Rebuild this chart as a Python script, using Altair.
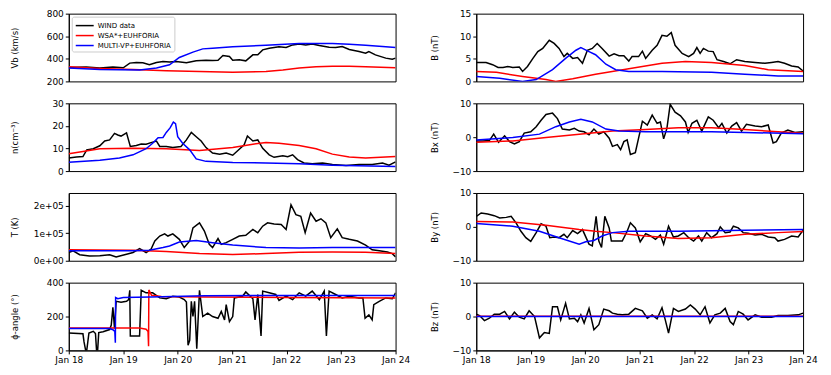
import altair as alt
import pandas as pd

# ---------------- data (day offset from Jan 18, value) ----------------
SERIES = ["WIND data", "WSA*+EUHFORIA", "MULTI-VP+EUHFORIA"]
COLORS = ["black", "#ff0000", "#0000ff"]
DAY_TICKS = [18, 19, 20, 21, 22, 23, 24]

vb_wind_d = [0, 0.32, 0.57, 0.81, 1.00, 1.12, 1.24, 1.36, 1.48, 1.61, 1.73, 1.85, 1.97, 2.16, 2.34,
             2.52, 2.64, 2.74, 2.83, 2.95, 3.01, 3.13, 3.25, 3.38, 3.47, 3.56, 3.68, 3.86, 3.99, 4.11,
             4.23, 4.35, 4.47, 4.60, 4.78, 4.90, 5.02, 5.15, 5.33, 5.45, 5.51, 5.63, 5.82, 5.94, 6.00]
vb_wind_v = [324, 327, 318, 327, 320, 362, 368, 365, 347, 368, 376, 371, 376, 365, 382,
             388, 385, 388, 429, 420, 388, 391, 382, 435, 435, 479, 494, 506, 500, 523,
             532, 523, 532, 518, 503, 500, 509, 482, 465, 450, 465, 435, 406, 397, 406]
vb_wsa_d = [0, 0.57, 1.18, 1.79, 2.40, 3.01, 3.62, 3.93, 4.23, 4.54, 4.84, 5.15, 5.45, 6.00]
vb_wsa_v = [329, 315, 306, 294, 288, 282, 288, 300, 318, 329, 335, 335, 329, 321]
vb_mvp_d = [0, 0.57, 1.30, 1.61, 1.85, 2.03, 2.28, 2.46, 2.64, 3.01, 3.62, 4.23, 4.84, 5.15, 5.45, 5.76, 6.00]
vb_mvp_v = [318, 306, 300, 318, 347, 412, 459, 488, 494, 506, 521, 535, 535, 529, 521, 509, 500]

n_wind_d = [0, 0.14, 0.26, 0.33, 0.45, 0.57, 0.66, 0.75, 0.84, 0.90, 0.96, 1.06, 1.13, 1.24, 1.33,
            1.42, 1.54, 1.61, 1.67, 1.79, 1.91, 2.06, 2.16, 2.25, 2.34, 2.43, 2.52, 2.64, 2.77, 2.89,
            3.01, 3.10, 3.22, 3.28, 3.38, 3.47, 3.56, 3.68, 3.77, 3.93, 4.02, 4.11, 4.20, 4.32, 4.47,
            4.66, 4.84, 5.09, 5.33, 5.57, 5.76, 5.88, 6.00]
n_wind_v = [5.8, 6.2, 6.4, 9.4, 9.9, 11.2, 13.3, 13.8, 16.7, 16.0, 15.5, 16.9, 10.9, 11.3, 12.0,
            11.9, 12.8, 13.3, 10.9, 10.9, 10.4, 10.9, 13.8, 17.1, 15.2, 13.3, 10.4, 8.0, 7.5, 8.0,
            7.0, 9.0, 11.6, 15.5, 13.3, 13.8, 10.1, 7.2, 6.1, 6.8, 6.4, 7.2, 5.1, 3.6, 3.2,
            3.6, 2.9, 2.5, 2.9, 2.9, 3.6, 2.6, 4.1]
n_wsa_d = [0, 0.26, 0.57, 1.18, 1.79, 2.40, 3.01, 3.38, 3.62, 3.86, 4.23, 4.54, 4.84, 5.15, 5.45, 6.00]
n_wsa_v = [7.7, 8.7, 9.9, 10.1, 9.9, 9.1, 10.4, 11.9, 12.6, 12.3, 11.3, 9.9, 7.5, 6.2, 5.8, 6.4]
n_mvp_d = [0, 0.57, 0.93, 1.18, 1.42, 1.54, 1.64, 1.73, 1.79, 1.86, 1.92, 1.96, 2.00, 2.09, 2.22,
           2.34, 2.52, 3.01, 3.62, 4.23, 4.84, 6.00]
n_mvp_v = [3.9, 4.8, 5.8, 7.2, 9.9, 12.3, 14.8, 14.9, 17.1, 19.1, 21.7, 21.0, 15.2, 12.3, 9.4,
           5.4, 4.3, 3.8, 3.6, 3.2, 2.6, 2.0]

t_wind_d = [0, 0.08, 0.20, 0.38, 0.57, 0.75, 0.87, 1.06, 1.18, 1.30, 1.42, 1.51, 1.58, 1.67, 1.76,
            1.82, 1.91, 2.03, 2.12, 2.22, 2.28, 2.40, 2.49, 2.58, 2.64, 2.74, 2.80, 2.89, 3.01, 3.13,
            3.25, 3.38, 3.47, 3.56, 3.65, 3.77, 3.90, 3.99, 4.08, 4.17, 4.26, 4.34, 4.44, 4.54, 4.63,
            4.72, 4.81, 4.93, 5.02, 5.15, 5.30, 5.45, 5.57, 5.70, 5.85, 5.94, 6.00]
t_wind_v = [30, 36, 22, 17, 18, 22, 14, 24, 30, 44, 30, 42, 72, 90, 98,
            90, 98, 78, 48, 72, 120, 138, 108, 60, 48, 81, 60, 66, 78, 90,
            93, 114, 102, 126, 138, 134, 132, 114, 204, 168, 162, 102, 174, 144, 153,
            138, 84, 116, 84, 78, 72, 57, 40, 36, 32, 26, 14]
t_wsa_d = [0, 1.18, 1.79, 2.40, 3.01, 3.62, 4.23, 4.84, 5.45, 6.00]
t_wsa_v = [40, 38, 34, 26, 23, 26, 31, 32, 31, 26]
t_mvp_d = [0, 1.18, 1.48, 1.73, 1.85, 2.03, 2.34, 2.64, 3.01, 3.62, 4.23, 4.84, 6.00]
t_mvp_v = [36, 36, 38, 48, 54, 68, 74, 66, 57, 48, 46, 48, 48]

phi_wind_d = [0, 0.26, 0.28, 0.31, 0.33, 0.37, 0.45, 0.49, 0.51, 0.53, 0.55, 0.63, 0.75, 0.78, 0.81,
              0.84, 0.87, 0.96, 1.06, 1.10, 1.12, 1.13, 1.24, 1.30, 1.33, 1.42, 1.54, 1.67, 1.79, 1.91,
              2.03, 2.12, 2.16, 2.19, 2.22, 2.25, 2.28, 2.31, 2.35, 2.40, 2.46, 2.55, 2.64, 2.74, 2.80,
              2.86, 2.89, 2.95, 3.01, 3.04, 3.19, 3.25, 3.38, 3.42, 3.47, 3.53, 3.56, 3.68, 3.80, 3.86,
              3.99, 4.11, 4.23, 4.35, 4.47, 4.60, 4.69, 4.73, 4.78, 4.90, 5.02, 5.15, 5.33, 5.40, 5.44,
              5.51, 5.57, 5.60, 5.70, 5.82, 5.94, 6.00]
phi_wind_v = [103, 98, 50, 0, 0, 103, 113, 100, 0, 0, 105, 110, 123, 150, 255,
              130, 290, 285, 290, 300, 355, 85, 85, 85, 355, 340, 340, 310, 305, 320,
              315, 300, 285, 30, 60, 290, 200, 290, 10, 355, 200, 220, 200, 190, 230,
              180, 270, 170, 200, 310, 320, 345, 305, 180, 330, 85, 350, 340, 330, 295,
              320, 300, 340, 320, 350, 300, 350, 85, 350, 330, 310, 320, 310, 310, 190,
              210, 180, 270, 290, 310, 305, 340]
phi_wsa_d = [0, 1.30, 1.42, 1.455, 1.465, 1.47, 1.52, 1.70, 2.50, 4.00, 6.00]
phi_wsa_v = [133, 132, 125, 112, 25, 357, 325, 318, 315, 312, 310]
phi_mvp_d = [0, 0.75, 0.81, 0.845, 0.855, 0.86, 0.90, 1.00, 1.50, 2.50, 3.50, 6.00]
phi_mvp_v = [129, 129, 122, 112, 45, 312, 305, 312, 315, 322, 324, 324]

b_wind_d = [0, 0.18, 0.30, 0.40, 0.49, 0.58, 0.67, 0.79, 0.85, 0.94, 1.04, 1.13, 1.22, 1.34, 1.43,
            1.52, 1.61, 1.67, 1.77, 1.86, 1.95, 2.04, 2.13, 2.22, 2.31, 2.44, 2.53, 2.62, 2.71, 2.80,
            2.86, 2.98, 3.05, 3.11, 3.23, 3.32, 3.41, 3.50, 3.58, 3.65, 3.78, 3.90, 3.99, 4.05, 4.11,
            4.17, 4.26, 4.35, 4.42, 4.54, 4.66, 4.78, 4.93, 5.12, 5.30, 5.42, 5.54, 5.66, 5.79, 5.91, 6.00]
b_wind_v = [4.2, 4.2, 3.7, 3.1, 3.1, 3.3, 3.1, 3.2, 2.2, 3.3, 5.1, 6.6, 7.3, 9.1, 8.4,
            7.3, 5.5, 6.2, 5.1, 5.3, 4.0, 6.9, 7.3, 8.4, 7.3, 5.6, 6.1, 5.7, 5.7, 4.5,
            5.5, 5.5, 6.7, 5.1, 6.9, 8.0, 10.2, 10.0, 10.8, 8.0, 6.2, 5.5, 6.2, 7.5, 6.2,
            7.3, 6.7, 6.6, 4.8, 4.4, 3.9, 4.8, 4.4, 4.2, 4.0, 4.2, 4.4, 4.0, 3.4, 3.2, 2.3]
b_wsa_d = [0, 0.37, 0.85, 1.28, 1.46, 1.77, 2.19, 2.80, 3.41, 3.84, 4.32, 4.93, 5.36, 6.00]
b_wsa_v = [2.2, 2.0, 1.1, 0.4, 0.0, 0.6, 1.6, 2.8, 4.0, 4.4, 4.2, 3.5, 2.6, 2.2]
b_mvp_d = [0, 0.43, 0.85, 1.10, 1.40, 1.64, 1.83, 1.92, 2.07, 2.19, 2.38, 2.56, 2.80, 3.41, 4.32,
           4.93, 5.54, 6.00]
b_mvp_v = [1.1, 0.7, 0.0, 0.4, 2.6, 5.1, 6.9, 7.5, 6.6, 5.9, 3.8, 2.6, 2.2, 2.2, 2.0,
           1.6, 1.2, 1.2]

bx_wind_d = [0, 0.12, 0.24, 0.32, 0.41, 0.52, 0.61, 0.70, 0.79, 0.88, 1.00, 1.10, 1.19, 1.28, 1.40,
             1.49, 1.58, 1.71, 1.80, 1.89, 1.98, 2.07, 2.16, 2.25, 2.34, 2.44, 2.50, 2.59, 2.65, 2.71,
             2.77, 2.83, 2.92, 2.98, 3.05, 3.14, 3.23, 3.32, 3.38, 3.44, 3.50, 3.56, 3.65, 3.75, 3.84,
             3.89, 3.96, 4.05, 4.14, 4.26, 4.35, 4.45, 4.51, 4.60, 4.69, 4.78, 4.87, 4.96, 5.12, 5.24,
             5.36, 5.45, 5.51, 5.60, 5.72, 5.85, 6.00]
bx_wind_v = [-1.1, -1.1, -1.0, 0.9, -1.5, 0.4, -1.3, -2.0, -1.3, 1.2, 1.6, 3.1, 5.0, 6.7, 7.1,
             5.5, 2.4, 2.1, 2.6, 1.8, 1.6, 0.7, 2.4, 0.9, 1.6, -0.3, -2.7, -2.2, -3.7, -1.3,
             -0.8, -5.1, -4.6, -0.3, 4.7, 3.6, 6.5, 4.1, 4.5, -0.5, 2.6, 9.7, 7.4, 6.3, 4.5,
             1.4, 4.1, 5.0, 1.8, 6.0, 5.0, 2.8, 4.1, 1.2, 3.3, 4.3, 1.8, 3.8, 3.3, 3.1,
             3.6, -1.7, -1.3, 1.2, 2.1, 1.4, 1.6]
bx_wsa_d = [0, 0.67, 1.28, 1.89, 2.50, 3.11, 3.71, 4.32, 4.93, 5.54, 6.00]
bx_wsa_v = [-1.5, -1.1, -0.1, 0.9, 1.8, 2.3, 2.8, 2.8, 2.3, 1.6, 1.2]
bx_mvp_d = [0, 0.67, 1.16, 1.46, 1.71, 1.92, 2.13, 2.38, 2.62, 3.11, 4.32, 4.93, 6.00]
bx_mvp_v = [-0.8, -0.1, 0.9, 3.1, 4.5, 5.3, 4.5, 2.4, 1.8, 1.6, 1.6, 1.4, 1.0]

by_wind_d = [0, 0.09, 0.21, 0.33, 0.43, 0.55, 0.64, 0.73, 0.82, 0.91, 1.00, 1.10, 1.19, 1.28, 1.35,
             1.43, 1.52, 1.61, 1.67, 1.77, 1.86, 1.95, 2.07, 2.13, 2.20, 2.25, 2.30, 2.36, 2.44, 2.48,
             2.59, 2.68, 2.77, 2.83, 2.92, 3.01, 3.11, 3.20, 3.29, 3.38, 3.44, 3.53, 3.62, 3.71, 3.81,
             3.90, 3.99, 4.08, 4.14, 4.23, 4.32, 4.42, 4.48, 4.57, 4.66, 4.72, 4.81, 4.90, 4.99, 5.12,
             5.24, 5.36, 5.48, 5.54, 5.66, 5.79, 5.91, 6.00]
by_wind_v = [3.1, 4.1, 3.8, 3.3, 2.6, 2.8, 3.1, 1.2, -1.3, -3.2, -4.3, -1.7, 0.9, 0.2, -3.2,
             -3.0, -3.2, -2.2, -3.2, -1.1, -2.0, -0.8, -5.1, -5.6, 3.1, -4.2, -6.1, 3.1, -0.3, -4.2,
             -4.2, -4.2, -1.3, 1.2, -0.3, -4.4, -2.0, -2.7, -3.7, -2.4, -5.1, 0.2, -3.0, -2.7, -1.7,
             -3.2, -4.2, -2.7, -4.2, -1.7, -3.2, -2.0, 0.0, -1.7, -1.5, 0.2, -0.3, -1.7, -1.9, -2.4,
             -2.2, -3.0, -3.2, -4.2, -3.7, -2.7, -3.0, -1.0]
by_wsa_d = [0, 0.67, 1.28, 1.89, 2.19, 2.50, 3.11, 3.71, 4.32, 4.93, 5.54, 6.00]
by_wsa_v = [1.6, 1.4, 0.5, -0.8, -1.3, -1.7, -2.7, -3.4, -3.2, -2.2, -1.7, -1.4]
by_mvp_d = [0, 0.67, 1.16, 1.52, 1.89, 2.01, 2.16, 2.31, 2.50, 2.80, 3.71, 4.93, 6.00]
by_mvp_v = [1.0, 0.2, -1.3, -3.2, -5.1, -4.4, -4.0, -2.7, -1.7, -1.3, -1.3, -1.0, -0.8]

bz_wind_d = [0, 0.06, 0.15, 0.24, 0.33, 0.43, 0.52, 0.61, 0.70, 0.79, 0.88, 0.97, 1.07, 1.16, 1.25,
             1.34, 1.40, 1.49, 1.55, 1.64, 1.71, 1.80, 1.86, 1.92, 1.98, 2.07, 2.16, 2.25, 2.34, 2.44,
             2.50, 2.59, 2.68, 2.80, 2.92, 3.05, 3.14, 3.23, 3.32, 3.41, 3.47, 3.53, 3.62, 3.71, 3.84,
             3.93, 4.02, 4.11, 4.20, 4.29, 4.38, 4.48, 4.57, 4.66, 4.72, 4.81, 4.90, 4.99, 5.12, 5.24,
             5.42, 5.54, 5.72, 5.91, 6.00]
bz_wind_v = [0.7, 0.3, -1.2, -0.5, 0.7, 0.7, 1.5, -0.7, 1.3, -0.2, -0.7, 1.7, 0.0, -6.3, -4.7,
             -5.0, 2.9, 2.9, -1.0, 3.9, -0.7, -0.5, -1.5, 0.5, -1.9, 2.4, -3.9, -2.4, 2.2, 1.7,
             1.0, 0.7, 0.5, 0.7, 2.4, 1.7, -0.5, 0.5, -0.7, 2.6, -1.0, -4.9, 2.4, 1.5, 2.2,
             3.4, 2.2, 0.5, 2.9, -1.9, 0.5, 1.0, 2.4, -1.5, -2.4, 1.5, 0.7, -1.0, 0.5, -0.2,
             -0.2, 0.3, 0.3, 0.5, 1.0]
bz_wsa_d = [0, 1.9, 3.0, 6.0]
bz_wsa_v = [0.05, 0.1, 0.05, 0.05]
bz_mvp_d = [0, 3.0, 6.0]
bz_mvp_v = [0.0, 0.0, 0.0]

T0 = pd.Timestamp("2018-01-18")


def frame(days, vals, name, scale=1.0):
    return pd.DataFrame({
        "t": [T0 + pd.Timedelta(days=d) for d in days],
        "v": [v * scale for v in vals],
        "s": name,
    })


FONT = "DejaVu Sans"
W, H = 328, 68
color_scale = alt.Scale(domain=SERIES, range=COLORS)
x_dom = [alt.DateTime(year=2018, month=1, date=18), alt.DateTime(year=2018, month=1, date=24)]
x_vals = [alt.DateTime(year=2018, month=1, date=d) for d in DAY_TICKS]


def panel(series_data, title, dom, ticks, title_x, bottom=False, legend=False, label_expr=None):
    if bottom:
        xaxis = alt.Axis(values=x_vals, format="%b %d", title=None, labelFlush=False,
                         grid=False, tickSize=3.5, labelPadding=2)
    else:
        xaxis = None
    yargs = dict(values=ticks, title=title, titleX=title_x, grid=False)
    if label_expr:
        yargs["labelExpr"] = label_expr
    layers = []
    for (d, v, scale), name in zip(series_data, SERIES):
        df = frame(d, v, name, scale)
        leg = None
        if legend and name == SERIES[0]:
            leg = alt.Legend(orient="top-left", title=None, labelFontSize=7, labelFont=FONT,
                             symbolType="M-1.8,0H1.8", symbolSize=100, symbolStrokeWidth=1.5,
                             strokeColor="#cccccc", fillColor="white", padding=3, offset=3,
                             cornerRadius=2, rowPadding=1, labelLimit=200, symbolOffset=4,
                             labelOffset=7)
        layers.append(
            alt.Chart(df).mark_line(clip=True, strokeWidth=1.5).encode(
                x=alt.X("t:T", scale=alt.Scale(domain=x_dom), axis=xaxis),
                y=alt.Y("v:Q", scale=alt.Scale(domain=dom, nice=False, zero=False), axis=alt.Axis(**yargs)),
                color=alt.Color("s:N", scale=color_scale, legend=leg),
            )
        )
    return alt.layer(*layers).properties(width=W, height=H)


LX, RX = -49, -37
p_vb = panel([(vb_wind_d, vb_wind_v, 1), (vb_wsa_d, vb_wsa_v, 1), (vb_mvp_d, vb_mvp_v, 1)],
             "Vb (km/s)", [200, 800], [200, 400, 600, 800], LX, legend=True)
p_n = panel([(n_wind_d, n_wind_v, 1), (n_wsa_d, n_wsa_v, 1), (n_mvp_d, n_mvp_v, 1)],
            "n(cm⁻³)", [0, 30], [0, 10, 20, 30], LX)
p_t = panel([(t_wind_d, t_wind_v, 1000), (t_wsa_d, t_wsa_v, 1000), (t_mvp_d, t_mvp_v, 1000)],
            "T (K)", [0, 247000], [0, 100000, 200000], LX,
            label_expr="replace(format(datum.value, '.0e'), 'e+', 'e+0')")
p_phi = panel([(phi_wind_d, phi_wind_v, 1), (phi_wsa_d, phi_wsa_v, 1), (phi_mvp_d, phi_mvp_v, 1)],
              "ϕ-angle (°)", [0, 400], [0, 200, 400], LX, bottom=True)
p_b = panel([(b_wind_d, b_wind_v, 1), (b_wsa_d, b_wsa_v, 1), (b_mvp_d, b_mvp_v, 1)],
            "B (nT)", [0, 15], [0, 5, 10, 15], RX)
p_bx = panel([(bx_wind_d, bx_wind_v, 1), (bx_wsa_d, bx_wsa_v, 1), (bx_mvp_d, bx_mvp_v, 1)],
             "Bx (nT)", [-10, 10], [-10, 0, 10], RX)
p_by = panel([(by_wind_d, by_wind_v, 1), (by_wsa_d, by_wsa_v, 1), (by_mvp_d, by_mvp_v, 1)],
             "By (nT)", [-10, 10], [-10, 0, 10], RX)
p_bz = panel([(bz_wind_d, bz_wind_v, 1), (bz_wsa_d, bz_wsa_v, 1), (bz_mvp_d, bz_mvp_v, 1)],
             "Bz (nT)", [-10, 10], [-10, 0, 10], RX, bottom=True)

rows = [alt.hconcat(l, r, spacing=81, bounds="flush") for l, r in
        [(p_vb, p_b), (p_n, p_bx), (p_t, p_by), (p_phi, p_bz)]]

chart = alt.vconcat(*rows, spacing=11).resolve_scale(color="independent").resolve_legend(
    color="independent"
).properties(
    padding={"left": 2, "top": 0, "right": 5, "bottom": 5}
).configure_view(
    stroke="black", strokeWidth=1
).configure_axis(
    domainColor="black", tickColor="black", labelColor="black", titleColor="black",
    labelFont=FONT, titleFont=FONT, labelFontSize=9, titleFontSize=8.5,
    titleFontWeight="normal", tickSize=3.5, labelPadding=2, grid=False, domainWidth=1, tickWidth=1
)

chart.save("out.html", embed_options={"renderer": "svg", "actions": False})
